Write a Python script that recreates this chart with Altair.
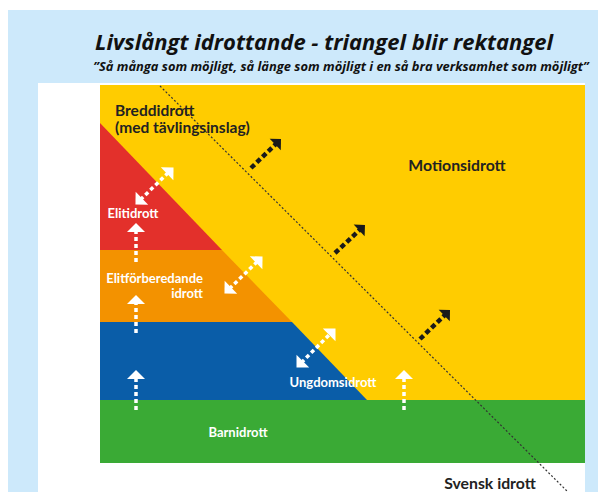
import math
import altair as alt
import pandas as pd

# ---------------- data (diagram coordinates, y grows downward) ----------------
area_names = ["Bakgrund", "Panel", "Motionsidrott", "Barnidrott"]
area_x0 = [7, 38, 100, 100]
area_x1 = [606, 585, 585, 585]
area_y0 = [10, 83, 85, 400]
area_y1 = [500, 500, 463, 463]

band_names = ["Elitidrott", "Elitidrott", "Elitförberedande", "Elitförberedande",
              "Ungdomsidrott", "Ungdomsidrott"]
band_y = [123, 250, 250, 322, 322, 400]
band_edge_x = [100, 222, 222, 292, 292, 367]
band_left_x = [100, 100, 100, 100, 100, 100]

palette_names = ["Bakgrund", "Panel", "Motionsidrott", "Barnidrott",
                 "Elitidrott", "Elitförberedande", "Ungdomsidrott"]
palette_colors = ["#CDE9FB", "#FFFFFF", "#FFCC00", "#3AAA35",
                  "#E3302B", "#F39200", "#0A5DA8"]

dotted_x = [160, 576]
dotted_y = [86, 500]

# white vertical arrows (tail -> tip)
up_x = [136, 136, 136, 404]
up_tail_y = [410, 333, 262, 410]
up_tip_y = [370, 295, 223, 370]

# white double-headed arrows (end A lower-left, end B upper-right)
dbl_a_x = [136, 225, 297]
dbl_a_y = [204, 293, 367]
dbl_b_x = [173, 262, 335]
dbl_b_y = [168, 257, 329]

# black arrows pointing outwards (tail -> tip)
out_tail_x = [251, 335, 420]
out_tail_y = [168, 253, 339]
out_tip_x = [281, 365, 450]
out_tip_y = [139, 225, 310]

title_text = "Livslångt idrottande - triangel blir rektangel"
subtitle_text = "\u201dSå många som möjligt, så länge som möjligt i en så bra verksamhet som möjligt\u201d"

dark_labels = ["Breddidrott", "(med tävlingsinslag)", "Motionsidrott", "Svensk idrott"]
dark_x = [115, 115, 457, 490]
dark_y = [116, 133, 171, 489]
dark_align = ["left", "left", "center", "center"]

white_labels = ["Elitidrott", "Elitförberedande", "idrott", "Ungdomsidrott", "Barnidrott"]
white_x = [133, 203, 203, 333, 238]
white_y = [218, 283, 298, 387, 437]
white_align = ["center", "right", "right", "center", "center"]

# ---------------- build tables ----------------
areas = pd.DataFrame({"name": area_names, "x": area_x0, "x2": area_x1,
                      "y": area_y0, "y2": area_y1})
bands = pd.DataFrame({"name": band_names, "y": band_y, "x": band_edge_x, "x2": band_left_x})
dotted = pd.DataFrame({"x": dotted_x, "y": dotted_y})

HEAD_PATH = "M0,-0.5L1,0.5L-1,0.5Z"


def arrow(tail, tip, head_size, double=False):
    dx, dy = tip[0] - tail[0], tip[1] - tail[1]
    L = math.hypot(dx, dy)
    ux, uy = dx / L, dy / L
    h = math.sqrt(head_size) / 2  # head height in px
    ang = math.degrees(math.atan2(ux, -uy)) % 360
    heads = [{"x": tip[0] - ux * h / 2, "y": tip[1] - uy * h / 2, "angle": ang}]
    end = (tip[0] - ux * h * 0.8, tip[1] - uy * h * 0.8)
    start = tail
    if double:
        heads.append({"x": tail[0] + ux * h / 2, "y": tail[1] + uy * h / 2,
                      "angle": (ang + 180) % 360})
        start = (tail[0] + ux * h * 0.8, tail[1] + uy * h * 0.8)
    shaft = {"x": start[0], "y": start[1], "x2": end[0], "y2": end[1]}
    return shaft, heads


white_shafts, white_heads = [], []
for i in range(len(up_x)):
    s, hs = arrow((up_x[i], up_tail_y[i]), (up_x[i], up_tip_y[i]), 324)
    white_shafts.append(s)
    white_heads += hs
for i in range(len(dbl_a_x)):
    s, hs = arrow((dbl_a_x[i], dbl_a_y[i]), (dbl_b_x[i], dbl_b_y[i]), 225, double=True)
    white_shafts.append(s)
    white_heads += hs
black_shafts, black_heads = [], []
for i in range(len(out_tail_x)):
    s, hs = arrow((out_tail_x[i], out_tail_y[i]), (out_tip_x[i], out_tip_y[i]), 256)
    black_shafts.append(s)
    black_heads += hs

white_shafts = pd.DataFrame(white_shafts)
white_heads = pd.DataFrame(white_heads)
black_shafts = pd.DataFrame(black_shafts)
black_heads = pd.DataFrame(black_heads)

dark_df = pd.DataFrame({"t": dark_labels, "x": dark_x, "y": dark_y, "a": dark_align})
white_df = pd.DataFrame({"t": white_labels, "x": white_x, "y": white_y, "a": white_align})

# ---------------- scales (page pixels 8..598 x 8..492 are visible) ----------------
xs = alt.Scale(domain=[8, 598], nice=False, zero=False)
ys = alt.Scale(domain=[8, 492], nice=False, zero=False, reverse=True)
cs = alt.Scale(domain=palette_names, range=palette_colors)
X = lambda f="x": alt.X(f"{f}:Q", scale=xs, axis=None)
Y = lambda f="y": alt.Y(f"{f}:Q", scale=ys, axis=None)

rects = alt.Chart(areas).mark_rect(clip=True).encode(
    x=X(), x2="x2:Q", y=Y(), y2="y2:Q",
    color=alt.Color("name:N", scale=cs, legend=None))

tri = alt.Chart(bands).mark_area(orient="horizontal").encode(
    y=Y(), x=X(), x2="x2:Q",
    color=alt.Color("name:N", scale=cs, legend=None))

dline = alt.Chart(dotted).mark_line(color="#333333", strokeWidth=1.2, clip=True,
                                    strokeDash=[2, 2]).encode(x=X(), y=Y())

wshaft = alt.Chart(white_shafts).mark_rule(color="white", strokeWidth=3.5,
                                           strokeDash=[4, 3]).encode(
    x=X(), y=Y(), x2="x2:Q", y2="y2:Q")
whead = alt.Chart(white_heads).mark_point(shape=HEAD_PATH, filled=True, color="white",
                                          opacity=1, size=324).encode(
    x=X(), y=Y(), angle=alt.Angle("angle:Q", scale=None))
bshaft = alt.Chart(black_shafts).mark_rule(color="#1a1a1a", strokeWidth=4.5,
                                           strokeDash=[5, 3]).encode(
    x=X(), y=Y(), x2="x2:Q", y2="y2:Q")
bhead = alt.Chart(black_heads).mark_point(shape=HEAD_PATH, filled=True, color="#1a1a1a",
                                          opacity=1, size=256).encode(
    x=X(), y=Y(), angle=alt.Angle("angle:Q", scale=None))

title = alt.Chart(pd.DataFrame({"t": [title_text], "x": [324], "y": [50]})).mark_text(
    font="Open Sans", fontSize=22, fontWeight="bold", fontStyle="italic",
    color="#111111", align="center", baseline="alphabetic").encode(x=X(), y=Y(), text="t:N")
subtitle = alt.Chart(pd.DataFrame({"t": [subtitle_text], "x": [341], "y": [71]})).mark_text(
    font="Open Sans", fontSize=12.9, fontWeight="bold", fontStyle="italic",
    color="#111111", align="center", baseline="alphabetic").encode(x=X(), y=Y(), text="t:N")

dark_layers = []
for al, fs in [("left", 15.5), ("center", 15.8)]:
    dark_layers.append(alt.Chart(dark_df[dark_df.a == al]).mark_text(
        font="Lato", fontSize=fs, fontWeight="bold", color="#222222",
        align=al, baseline="alphabetic").encode(x=X(), y=Y(), text="t:N"))
white_layers = []
for al in ["right", "center"]:
    white_layers.append(alt.Chart(white_df[white_df.a == al]).mark_text(
        font="Lato", fontSize=13, fontWeight="bold", color="white",
        align=al, baseline="alphabetic").encode(x=X(), y=Y(), text="t:N"))

chart = alt.layer(rects, tri, dline, wshaft, whead, bshaft, bhead, title, subtitle,
                  *dark_layers, *white_layers).properties(
    width=590, height=484, padding=0,
    autosize=alt.AutoSizeParams(type="none"),
    background="white",
).configure_view(stroke=None)

chart.save("out.html", embed_options={"renderer": "svg", "actions": False})
